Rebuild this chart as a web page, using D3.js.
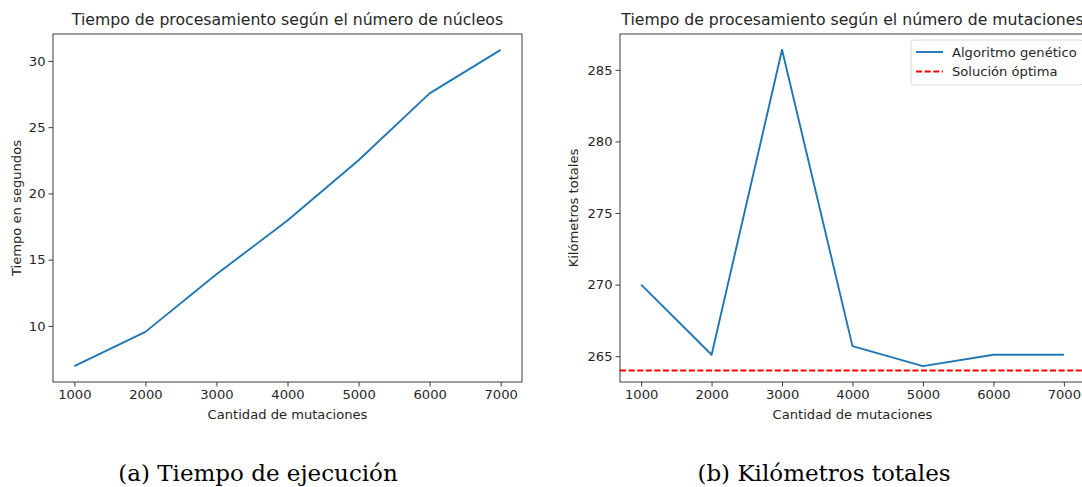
<!DOCTYPE html>
<html>
<head>
<meta charset="utf-8">
<script src="https://cdn.jsdelivr.net/npm/d3@7"></script>
<style>
  body { margin: 0; background: #fff; }
  svg text { font-family: "DejaVu Sans", sans-serif; fill: #262626; }
  .caption { font-family: "DejaVu Serif", "Liberation Serif", serif; fill: #000; }
</style>
</head>
<body>
<div id="chart"></div>
<script>
// shared x values
const mutaciones = [1000, 2000, 3000, 4000, 5000, 6000, 7000];
const xTicks = [1000, 2000, 3000, 4000, 5000, 6000, 7000];

// (a) tiempo de ejecucion
const tiempoSegundos = [6.96, 9.55, 13.9, 17.95, 22.5, 27.55, 30.84];
const tiempoTicks = [10, 15, 20, 25, 30];

// (b) kilometros totales
const kilometros = [270.0, 265.1, 286.4, 265.7, 264.3, 265.1, 265.1];
const kmTicks = [265, 270, 275, 280, 285];
const solucionOptima = 264.0;

const W = 1082, H = 487;
const svg = d3.select("#chart").append("svg")
    .attr("width", W)
    .attr("height", H);

const tickFont = "13.1px", titleFont = "15.7px";

// padded domain like matplotlib autoscale (5% each side)
function padded(arr){
    const [lo, hi] = d3.extent(arr), m = (hi - lo) * 0.05;
    return [lo - m, hi + m];
}

function drawPanel(opts){
    const g = svg.append("g");
    const x = d3.scaleLinear().domain(padded(mutaciones)).range([opts.left, opts.right]);
    const y = d3.scaleLinear().domain(padded(opts.values)).range([opts.bottom, opts.top]);

    // clip for lines
    const clipId = "clip" + opts.id;
    svg.append("clipPath").attr("id", clipId)
        .append("rect")
        .attr("x", opts.left).attr("y", opts.top)
        .attr("width", opts.right - opts.left).attr("height", opts.bottom - opts.top);

    // axes
    const xAxis = d3.axisBottom(x).tickValues(xTicks).tickSize(4.5).tickPadding(3).tickFormat(d3.format("d"));
    const yAxis = d3.axisLeft(y).tickValues(opts.yTicks).tickSize(4.5).tickPadding(3).tickFormat(d3.format("d"));

    const gx = g.append("g").attr("transform", "translate(0," + opts.bottom + ")").call(xAxis);
    const gy = g.append("g").attr("transform", "translate(" + opts.left + ",0)").call(yAxis);
    [gx, gy].forEach(a => {
        a.select(".domain").remove();
        a.selectAll(".tick line").attr("stroke", "#262626").attr("stroke-width", 0.9);
        a.selectAll(".tick text").style("font-size", tickFont).attr("fill", "#262626");
    });

    // series
    const line = d3.line().x((d, i) => x(mutaciones[i])).y(d => y(d));
    g.append("path")
        .datum(opts.values)
        .attr("clip-path", "url(#" + clipId + ")")
        .attr("fill", "none")
        .attr("stroke", "#1f77b4")
        .attr("stroke-width", 1.9)
        .attr("stroke-linejoin", "round")
        .attr("d", line);

    if (opts.hline !== undefined) {
        g.append("line")
            .attr("clip-path", "url(#" + clipId + ")")
            .attr("x1", opts.left).attr("x2", opts.right)
            .attr("y1", y(opts.hline)).attr("y2", y(opts.hline))
            .attr("stroke", "#ff0000")
            .attr("stroke-width", 1.9)
            .attr("stroke-dasharray", "6,2.6");
    }

    // frame
    g.append("rect")
        .attr("x", opts.left).attr("y", opts.top)
        .attr("width", opts.right - opts.left).attr("height", opts.bottom - opts.top)
        .attr("fill", "none").attr("stroke", "#262626").attr("stroke-width", 0.9);

    // title + labels
    g.append("text")
        .attr("x", (opts.left + opts.right) / 2).attr("y", opts.top - 9)
        .attr("text-anchor", "middle")
        .style("font-size", titleFont)
        .text(opts.title);

    g.append("text")
        .attr("x", (opts.left + opts.right) / 2).attr("y", opts.bottom + 37)
        .attr("text-anchor", "middle")
        .style("font-size", tickFont)
        .text("Cantidad de mutaciones");

    g.append("text")
        .attr("transform", "translate(" + opts.ylabelX + "," + ((opts.top + opts.bottom) / 2) + ") rotate(-90)")
        .attr("text-anchor", "middle")
        .style("font-size", tickFont)
        .text(opts.ylabel);

    return {x, y, g};
}

drawPanel({
    id: "a", left: 53, right: 522, top: 34, bottom: 382,
    values: tiempoSegundos, yTicks: tiempoTicks,
    title: "Tiempo de procesamiento según el número de núcleos",
    ylabel: "Tiempo en segundos", ylabelX: 21
});

const pb = drawPanel({
    id: "b", left: 620, right: 1085, top: 34, bottom: 382,
    values: kilometros, yTicks: kmTicks, hline: solucionOptima,
    title: "Tiempo de procesamiento según el número de mutaciones",
    ylabel: "Kilómetros totales", ylabelX: 578
});

// legend
const legendItems = [
    {label: "Algoritmo genético", color: "#1f77b4", dash: null},
    {label: "Solución óptima", color: "#ff0000", dash: "6,2.6"}
];
const lg = pb.g.append("g").attr("transform", "translate(911,40)");
lg.append("rect")
    .attr("width", 172).attr("height", 45)
    .attr("rx", 3).attr("ry", 3)
    .attr("fill", "#fff").attr("fill-opacity", 0.8)
    .attr("stroke", "#d6d6d6").attr("stroke-width", 0.9);
legendItems.forEach((d, i) => {
    const yy = 12 + i * 19.5;
    lg.append("line")
        .attr("x1", 5).attr("x2", 32).attr("y1", yy).attr("y2", yy)
        .attr("stroke", d.color).attr("stroke-width", 1.9)
        .attr("stroke-dasharray", d.dash);
    lg.append("text")
        .attr("x", 41).attr("y", yy + 4.5)
        .style("font-size", tickFont)
        .text(d.label);
});

// subfigure captions
svg.append("text").attr("class", "caption")
    .attr("x", 258).attr("y", 481).attr("text-anchor", "middle")
    .style("font-size", "23px")
    .text("(a) Tiempo de ejecución");
svg.append("text").attr("class", "caption")
    .attr("x", 824).attr("y", 481).attr("text-anchor", "middle")
    .style("font-size", "23px")
    .text("(b) Kilómetros totales");
</script>
</body>
</html>
